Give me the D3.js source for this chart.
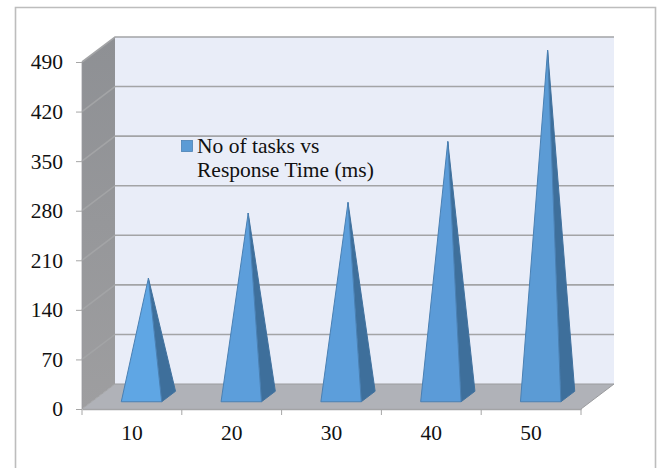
<!DOCTYPE html>
<html>
<head>
<meta charset="utf-8">
<script src="https://cdn.jsdelivr.net/npm/d3@7"></script>
<style>
  html, body { margin: 0; padding: 0; background: #fff; }
  svg { display: block; }
  text { font-family: "Liberation Serif", serif; fill: #111; }
</style>
</head>
<body>
<svg id="chart" width="662" height="468"></svg>
<script>
const categories = ["10", "20", "30", "40", "50"];
const responseTimes = [167, 259, 274, 360, 489];
const yTicks = [0, 70, 140, 210, 280, 350, 420, 490];
const seriesLines = ["No of tasks vs", "Response Time (ms)"];

const svg = d3.select("#chart");

// Oblique projection: the chart floor runs back and to the right.
const depth = { x: 33, y: -25 };
const x = d3.scaleBand().domain(categories).range([82, 581]).paddingInner(0).paddingOuter(0);
const y = d3.scaleLinear().domain([0, 490]).range([409, 62]);
const barWidth = x.bandwidth() * 0.405;
const barDepth = 0.42;
const project = (px, value, d) => [px + depth.x * d, y(value) + depth.y * d];
const line = pts => "M" + pts.map(p => p.join(",")).join("L") + "Z";

// Outer frame, open at the bottom of the page
svg.append("path")
  .attr("d", "M15.5,468V7.5H655.5V468")
  .attr("fill", "none").attr("stroke", "#bdbdbd").attr("stroke-width", 1.6);

const defs = svg.append("defs");
const wallGrad = defs.append("linearGradient").attr("id", "sideWall")
  .attr("x1", 0).attr("y1", 0).attr("x2", 0).attr("y2", 1);
wallGrad.append("stop").attr("offset", 0).attr("stop-color", "#8e9094");
wallGrad.append("stop").attr("offset", 1).attr("stop-color", "#9e9ea0");

const [xMin, xMax] = x.range();
const yMax = y.domain()[1];

// Back wall, side wall and floor
svg.append("path")
  .attr("d", line([project(xMin, 0, 1), project(xMax, 0, 1), project(xMax, yMax, 1), project(xMin, yMax, 1)]))
  .attr("fill", "#e9edf8");
svg.append("path")
  .attr("d", line([project(xMin, 0, 0), project(xMin, 0, 1), project(xMin, yMax, 1), project(xMin, yMax, 0)]))
  .attr("fill", "url(#sideWall)");
svg.append("path")
  .attr("d", line([project(xMin, 0, 0), project(xMax, 0, 0), project(xMax, 0, 1), project(xMin, 0, 1)]))
  .attr("fill", "#b0b2b8");

// Gridlines across the back wall and down the side wall
svg.append("g").selectAll("path").data(yTicks.filter(t => t > 0)).join("path")
  .attr("d", t => {
    const a = project(xMin, t, 0), b = project(xMin, t, 1), c = project(xMax, t, 1);
    return `M${a}L${b}L${c}`;
  })
  .attr("fill", "none").attr("stroke", "#a3a4a6").attr("stroke-width", 1.6);

// Floor outline
svg.append("path")
  .attr("d", `M${project(xMin, 0, 1)}L${project(xMax, 0, 1)}L${project(xMax, 0, 0)}`)
  .attr("fill", "none").attr("stroke", "#9a9b9e").attr("stroke-width", 1);
svg.append("path")
  .attr("d", `M${project(xMin, 0, 0)}L${project(xMin, 0, 1)}`)
  .attr("fill", "none").attr("stroke", "#a3a4a6").attr("stroke-width", 1);
svg.append("line")
  .attr("x1", xMin).attr("x2", xMin).attr("y1", y(yMax)).attr("y2", y(0))
  .attr("stroke", "#9a9b9e").attr("stroke-width", 0.8);

// Pyramids: a front face and a shaded right face rising to a shared apex
const frontFill = d3.scaleOrdinal().domain(categories)
  .range(["#5fa6e4", "#5c9edb", "#5c9edb", "#5b9bd8", "#5b9bd5"]);
const bars = svg.append("g").selectAll("g")
  .data(categories.map((c, i) => ({ c, v: responseTimes[i] })))
  .join("g");
const corners = d => {
  const cx = x(d.c) + x.bandwidth() / 2;
  const back = 0.5 + barDepth / 2 , front = 0.5 - barDepth / 2;
  return {
    fl: project(cx - barWidth / 2, 0, front),
    fr: project(cx + barWidth / 2, 0, front),
    br: project(cx + barWidth / 2, 0, back),
    apex: project(cx, d.v, 0.5)
  };
};
bars.append("path")
  .attr("d", d => { const k = corners(d); return line([k.fr, k.br, k.apex]); })
  .attr("fill", "#3e6f9b").attr("stroke", "#41729f").attr("stroke-width", 1).attr("stroke-linejoin", "round");
bars.append("path")
  .attr("d", d => { const k = corners(d); return line([k.fl, k.fr, k.apex]); })
  .attr("fill", d => frontFill(d.c)).attr("stroke", "#4a80b3").attr("stroke-width", 1).attr("stroke-linejoin", "round");

// Value axis
const yAxis = svg.append("g").attr("transform", `translate(${xMin},0)`)
  .call(d3.axisLeft(y).tickValues(yTicks).tickFormat(d3.format("d")).tickSize(6).tickPadding(13));
yAxis.select(".domain").remove();
yAxis.selectAll("line").attr("stroke", "#a6a6a6").attr("stroke-width", 1);
yAxis.selectAll("text").attr("font-size", 21.5).style("font-family", '"Liberation Serif", serif').attr("fill", "#111");

// Category axis: labels at band centres, ticks on band edges
const xAxis = svg.append("g").attr("transform", `translate(0,${y(0)})`)
  .call(d3.axisBottom(x).tickSize(0).tickPadding(16));
xAxis.select(".domain").attr("stroke", "#a3a4a6").attr("stroke-width", 1.6);
xAxis.selectAll("text").attr("font-size", 21.5).style("font-family", '"Liberation Serif", serif').attr("fill", "#111");
xAxis.selectAll(".edge").data(categories.map(c => x(c)).concat(xMax)).join("line")
  .attr("class", "edge")
  .attr("x1", d => d).attr("x2", d => d).attr("y1", 0).attr("y2", 6)
  .attr("stroke", "#a6a6a6").attr("stroke-width", 1);

// Series key
svg.append("rect")
  .attr("x", 181.5).attr("y", 140.5).attr("width", 11).attr("height", 11)
  .attr("fill", "#5b9bd5").attr("stroke", "#4a80b3").attr("stroke-width", 0.8);
svg.append("g").selectAll("text").data(seriesLines).join("text")
  .attr("x", 197).attr("y", (d, i) => 152.5 + i * 24)
  .attr("font-size", 21.5)
  .text(d => d);
</script>
</body>
</html>
